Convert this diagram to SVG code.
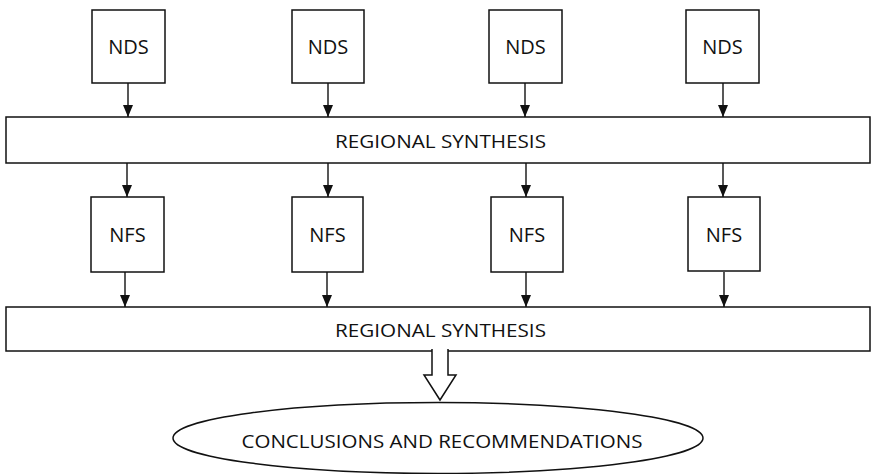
<svg xmlns="http://www.w3.org/2000/svg" width="871" height="474" viewBox="0 0 871 474">
<defs>
<style>
.box{fill:#fff;stroke:#111;stroke-width:1.5}
.t{font-family:"Open Sans","Liberation Sans",Arial,sans-serif;font-size:19px;fill:#111;text-anchor:middle}
.s{font-size:20px}
.c line{stroke:#111;stroke-width:1.4}
</style>
<marker id="ah" viewBox="0 0 12 10" refX="12" refY="5" markerWidth="12" markerHeight="10" markerUnits="userSpaceOnUse" orient="auto">
<path d="M0,0 L12,5 L0,10 Z" fill="#111"/>
</marker>
</defs>
<rect width="871" height="474" fill="#fff"/>
<g id="nds1"><rect class="box" x="92" y="10" width="73" height="73"/><text class="t s" x="128.5" y="54">NDS</text></g>
<g id="nds2"><rect class="box" x="292" y="10" width="72" height="73"/><text class="t s" x="328" y="54">NDS</text></g>
<g id="nds3"><rect class="box" x="489" y="10" width="73" height="73"/><text class="t s" x="525.5" y="54">NDS</text></g>
<g id="nds4"><rect class="box" x="686" y="10" width="73" height="73"/><text class="t s" x="722.5" y="54">NDS</text></g>
<g id="synthesis1"><rect class="box" x="6" y="117" width="864" height="46"/><text class="t" x="440.5" y="148" textLength="211" lengthAdjust="spacingAndGlyphs">REGIONAL SYNTHESIS</text></g>
<g id="nfs1"><rect class="box" x="91" y="197" width="73" height="75"/><text class="t s" x="127.5" y="242">NFS</text></g>
<g id="nfs2"><rect class="box" x="292" y="197" width="71" height="75"/><text class="t s" x="327.5" y="242">NFS</text></g>
<g id="nfs3"><rect class="box" x="491" y="197" width="72" height="75"/><text class="t s" x="527" y="242">NFS</text></g>
<g id="nfs4"><rect class="box" x="688" y="197" width="72" height="74"/><text class="t s" x="724" y="242">NFS</text></g>
<g id="synthesis2"><rect class="box" x="6" y="307" width="864" height="44"/><text class="t" x="440.5" y="337" textLength="211" lengthAdjust="spacingAndGlyphs">REGIONAL SYNTHESIS</text></g>
<g id="conclusions"><ellipse class="box" cx="438" cy="438" rx="265" ry="35.5"/><text class="t" x="442" y="448" textLength="401" lengthAdjust="spacingAndGlyphs">CONCLUSIONS AND RECOMMENDATIONS</text></g>
<g id="connectors" class="c">
<line x1="128" y1="83" x2="128" y2="117" marker-end="url(#ah)"/>
<line x1="328" y1="83" x2="328" y2="117" marker-end="url(#ah)"/>
<line x1="525" y1="83" x2="525" y2="117" marker-end="url(#ah)"/>
<line x1="723" y1="83" x2="723" y2="117" marker-end="url(#ah)"/>
<line x1="127" y1="163" x2="127" y2="197" marker-end="url(#ah)"/>
<line x1="328" y1="163" x2="328" y2="197" marker-end="url(#ah)"/>
<line x1="526" y1="163" x2="526" y2="197" marker-end="url(#ah)"/>
<line x1="723" y1="163" x2="723" y2="197" marker-end="url(#ah)"/>
<line x1="125" y1="272" x2="125" y2="307" marker-end="url(#ah)"/>
<line x1="327" y1="272" x2="327" y2="307" marker-end="url(#ah)"/>
<line x1="526" y1="272" x2="526" y2="307" marker-end="url(#ah)"/>
<line x1="724" y1="272" x2="724" y2="307" marker-end="url(#ah)"/>
<path d="M432,349 V375 H424 L440,400 L456,375 H448 V349" fill="#fff" stroke="#111" stroke-width="1.5" stroke-linejoin="miter"/>
</g>
</svg>
